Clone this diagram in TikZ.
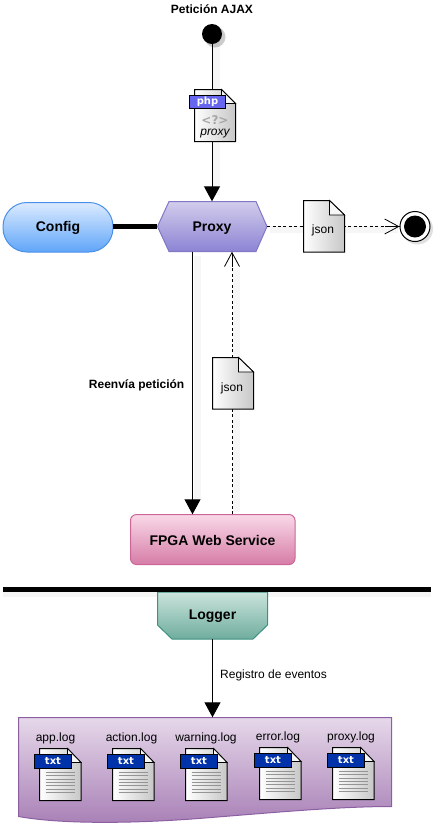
\documentclass[tikz,border=0pt]{standalone}
\usepackage{fontspec}
\setmainfont{Liberation Sans}
\newfontfamily\tagfont{DejaVu Sans}
\usetikzlibrary{arrows.meta,calc}
\definecolor{cfgTop}{HTML}{DCEBFF}\definecolor{cfgBot}{HTML}{5FA5F8}\definecolor{cfgLine}{HTML}{4A90E8}
\definecolor{prxTop}{HTML}{D2CDEC}\definecolor{prxBot}{HTML}{8C83D4}\definecolor{prxLine}{HTML}{7F78C4}
\definecolor{wsTop}{HTML}{F9D9E8}\definecolor{wsBot}{HTML}{D67CA6}\definecolor{wsLine}{HTML}{CC6699}
\definecolor{logTop}{HTML}{CBE4DC}\definecolor{logBot}{HTML}{6FAD9E}\definecolor{logLine}{HTML}{3D917F}
\definecolor{panTop}{HTML}{E6D8EA}\definecolor{panBot}{HTML}{A880B6}\definecolor{panLine}{HTML}{8C5FA3}
\definecolor{txtBlue}{HTML}{0033AA}\definecolor{phpBlue}{HTML}{6666EE}
\tikzset{
  x=1pt,y=-1pt,
  lbl/.style={inner sep=0pt,font=\fontsize{12}{14}\selectfont},
  blbl/.style={inner sep=0pt,font=\fontsize{12}{14}\selectfont\bfseries},
  title/.style={inner sep=0pt,font=\fontsize{14}{16}\selectfont\bfseries},
  anchorbox/.style={inner sep=0pt,minimum width=110pt,minimum height=50pt},
  solidtip/.style={-{Triangle[width=16pt,length=15pt]}},
  opentip/.style={-{Straight Barb[length=14pt,width=15pt,line width=.8pt]}},
  flow/.style={draw=black,line width=1pt},
  dashflow/.style={draw=black,line width=.9pt,dash pattern=on 3pt off 2.4pt},
  thick bar/.style={draw=black,line width=5pt},
  paper/.style={draw=black,line width=1pt,left color=white,right color=black!22},
  softshadow/.style={draw=black!3.5,line width=7pt},
  tagtext/.style={inner sep=0pt,text=white,font=\tagfont\fontsize{10}{12}\selectfont\bfseries},
  txticon/.pic={
    \path[paper] (0,0) -- (28,0) -- (41.5,14) -- (41.5,52) -- (0,52) -- cycle;
    \path[draw=black,line width=.8pt,fill=black!3] (28,0) -- (28,14) -- (41.5,14) -- cycle;
    \foreach \yy in {24,27.3,30.6,33.9,37.2,40.5,43.8}
      \draw[black!42,line width=1pt] (6,\yy) -- (35,\yy);
    \path[fill=txtBlue,draw=black,line width=.6pt] (-5,6) rectangle (31.5,20);
    \node[tagtext] at (13.5,12.5) {txt};
  }
}
\begin{document}
\begin{tikzpicture}
\useasboundingbox (0,0) rectangle (435,823);
% ---- light connector shadows
\draw[softshadow] (216,37) -- (216,195);
\draw[softshadow] (270,229) -- (398,229);
\draw[softshadow] (197,256) -- (197,500);
\draw[softshadow] (236,270) -- (236,512);
\draw[black!4,line width=5pt] (3,594.5) -- (431,594.5);
% ---- shape bodies
\fill[black,opacity=.2] (215,37) circle (10.5);
\path[draw=cfgLine,line width=1pt,top color=cfgTop,bottom color=cfgBot,rounded corners=24pt] (3,202.5) rectangle (113,252);
\path[draw=prxLine,line width=1pt,top color=prxTop,bottom color=prxBot] (157.5,226.5) -- (169,201.5) -- (256,201.5) -- (267,226.5) -- (256,251.5) -- (169,251.5) -- cycle;
\path[draw=wsLine,line width=1pt,top color=wsTop,bottom color=wsBot,rounded corners=6pt] (130.5,514.5) rectangle (295,564.5);
\path[draw=logLine,line width=1pt,top color=logTop,bottom color=logBot] (157.5,592) -- (267.5,592) -- (267.5,625) -- (253,639) -- (172,639) -- (157.5,625) -- cycle;
\path[draw=panLine,line width=1pt,top color=panTop,bottom color=panBot] (18.5,717.5) -- (391.5,717.5) -- (391.5,806.5) .. controls (340,806.5) and (280,812) .. (205,818) .. controls (130,824) and (60,824) .. (18.5,816.5) -- cycle;
% ---- named nodes
\node[anchorbox] (config) at (58,226.5) {};
\node[title] (configtext) at (58,228) {Config};
\node[anchorbox] (proxy) at (212,226.5) {};
\node[title] (proxytext) at (212,228) {Proxy};
\node[minimum width=165pt,minimum height=50pt,inner sep=0pt] (fpga) at (212.5,539.5) {};
\node[title] (fpgatext) at (212.5,540.5) {FPGA Web Service};
\node[minimum width=110pt,minimum height=47pt,inner sep=0pt] (logger) at (212.5,615.5) {};
\node[title] (loggertext) at (212.5,616) {Logger};
\node[minimum width=373pt,minimum height=89pt,inner sep=0pt] (panel) at (205,762) {};
\node[circle,fill=black,minimum size=20pt,inner sep=0pt] (start) at (212,34) {};
\fill[black,opacity=.12] (417.5,229) circle (15.5);
\node[circle,draw=black,line width=1pt,fill=white,minimum size=30pt,inner sep=0pt] (end) at (415,226.5) {};
\node[circle,fill=black,minimum size=22pt,inner sep=0pt] (endcore) at (415,226.5) {};
\node[blbl] (ajax) at (212,9) {Petición AJAX};
\node[blbl,anchor=east] (reenvia) at (184.5,385) {Reenvía petición};
\node[lbl,anchor=west] (registro) at (220,675) {Registro de eventos};
% ---- connectors
\draw[flow,solidtip] (start) -- (proxy.north);
\draw[thick bar] (config.east) -- (proxy.west);
\draw[dashflow] (proxy.east) -- (end.west);
\draw[black,line width=.9pt,opentip] (385,226.5) -- (end.west);
\draw[flow,solidtip] ([xshift=-19.5pt]proxy.south) -- ([xshift=-20pt]fpga.north);
\draw[dashflow] ([xshift=19.5pt]fpga.north) -- ([xshift=20pt,yshift=-14pt]proxy.south);
\draw[black,line width=.9pt,opentip] ([xshift=20pt,yshift=-14pt]proxy.south) -- ([xshift=20pt]proxy.south);
\draw[thick bar] (3,589.5) -- (431,589.5);
\draw[flow,solidtip] (logger.south) -- (logger.south |- panel.north);
% ---- php icon
\path[paper] (194.5,89.5) -- (221.5,89.5) -- (235.5,103.5) -- (235.5,141.5) -- (194.5,141.5) -- cycle;
\path[draw=black,line width=.8pt,fill=black!3] (221.5,89.5) -- (221.5,103.5) -- (235.5,103.5) -- cycle;
\path[fill=phpBlue,draw=black,line width=.6pt] (189.5,95.5) rectangle (225.5,108.5);
\node[tagtext] (phptag) at (207.5,101.5) {php};
\node[inner sep=0pt,text=black!35,font=\tagfont\fontsize{12}{13}\selectfont\bfseries] (phpmark) at (215,120.5) {<?>};
\node[inner sep=0pt,font=\fontsize{12}{13}\selectfont\itshape] (phpname) at (215,134) {proxy};
% ---- json documents
\path[paper] (303.5,200.5) -- (329.5,200.5) -- (344.5,215) -- (344.5,252) -- (303.5,252) -- cycle;
\path[draw=black,line width=.8pt,fill=black!3] (329.5,200.5) -- (329.5,215) -- (344.5,215) -- cycle;
\node[lbl] (json1) at (323,230) {json};
\path[paper] (212.5,357.5) -- (238.5,357.5) -- (253.5,372) -- (253.5,409) -- (212.5,409) -- cycle;
\path[draw=black,line width=.8pt,fill=black!3] (238.5,357.5) -- (238.5,372) -- (253.5,372) -- cycle;
\node[lbl] (json2) at (232,388) {json};
% ---- log files
\node[lbl] (app) at (55.5,738) {app.log};
\node[lbl] (action) at (131.5,738) {action.log};
\node[lbl] (warning) at (206,738) {warning.log};
\node[lbl] (error) at (278,737) {error.log};
\node[lbl] (proxylog) at (351,737) {proxy.log};
\pic at (39.5,748.5) {txticon};
\pic at (112.5,748.5) {txticon};
\pic at (185.5,748.5) {txticon};
\pic at (259.5,747.5) {txticon};
\pic at (332.5,747.5) {txticon};
\end{tikzpicture}
\end{document}
